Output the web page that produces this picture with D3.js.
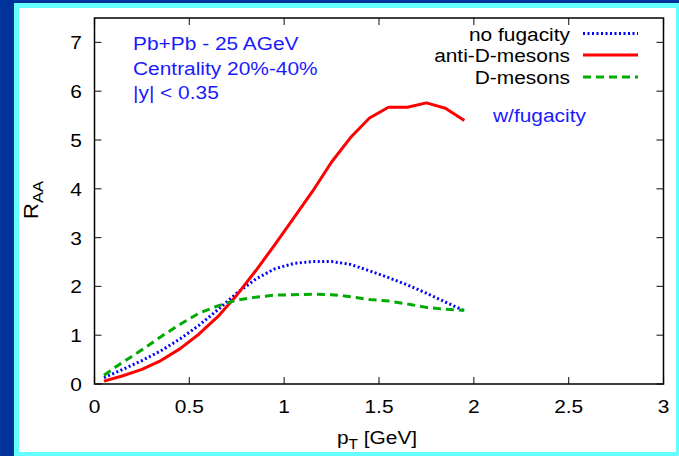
<!DOCTYPE html>
<html><head><meta charset="utf-8">
<script src="https://cdn.jsdelivr.net/npm/d3@7"></script>
<style>html,body{margin:0;padding:0;background:#fff;}svg{display:block;}</style>
</head><body>
<svg id="c" width="679" height="456"></svg>
<script>
const pT = [0.05,0.15,0.25,0.35,0.45,0.55,0.65,0.75,0.85,0.95,1.05,1.15,1.25,1.35,1.45,1.55,1.65,1.75,1.85,1.95];
const noFugacity = [0.13,0.30,0.48,0.68,0.92,1.20,1.52,1.86,2.15,2.36,2.47,2.51,2.51,2.45,2.32,2.18,2.03,1.86,1.68,1.50];
const antiD = [0.06,0.17,0.30,0.48,0.72,1.02,1.38,1.82,2.32,2.85,3.40,3.95,4.55,5.05,5.45,5.67,5.67,5.76,5.65,5.40];
const dMesons = [0.18,0.45,0.70,0.97,1.22,1.45,1.60,1.72,1.78,1.82,1.83,1.84,1.83,1.79,1.73,1.70,1.64,1.57,1.53,1.51];
const xTicks = [0,0.5,1,1.5,2,2.5,3];
const xTickLabels = ["0","0.5","1","1.5","2","2.5","3"];
const yTicks = [0,1,2,3,4,5,6,7];
const legendLabels = ["no fugacity","anti-D-mesons","D-mesons"];
const infoLines = ["Pb+Pb - 25 AGeV","Centrality 20%-40%","|y| < 0.35"];

const svg = d3.select("#c");
const FONT = "Liberation Sans, Arial, Helvetica, sans-serif";
const SX = 1.1;

// background frame
svg.append("rect").attr("x",0).attr("y",0).attr("width",679).attr("height",456).attr("fill","#003399");
svg.append("rect").attr("x",14).attr("y",3).attr("width",665).attr("height",453).attr("fill","#66ffff");
svg.append("rect").attr("x",19).attr("y",8).attr("width",657).attr("height",444).attr("fill","#ffffff");

const L=94.5, R=663.5, T=18, B=384;
const x = d3.scaleLinear().domain([0,3]).range([L,R]);
const y = d3.scaleLinear().domain([0,7.5]).range([B,T]);

function txt(xp, yp, s, anchor, size, color){
  return svg.append("text").attr("transform",`translate(${xp},${yp}) scale(${SX},1)`)
    .attr("text-anchor",anchor).attr("font-family",FONT).attr("font-size",size)
    .attr("fill",color).text(s);
}

const g = svg.append("g");
// ticks (gnuplot style, inward on all sides)
const tl = 7;
const tc = "#333";
g.selectAll(".xtb").data(xTicks).enter().append("line")
  .attr("x1",d=>x(d)).attr("x2",d=>x(d)).attr("y1",B).attr("y2",B-tl).attr("stroke",tc).attr("stroke-width",1.2);
g.selectAll(".xtt").data(xTicks).enter().append("line")
  .attr("x1",d=>x(d)).attr("x2",d=>x(d)).attr("y1",T).attr("y2",T+tl).attr("stroke",tc).attr("stroke-width",1.2);
g.selectAll(".ytl").data(yTicks).enter().append("line")
  .attr("x1",L).attr("x2",L+tl).attr("y1",d=>y(d)).attr("y2",d=>y(d)).attr("stroke",tc).attr("stroke-width",1.2);
g.selectAll(".ytr").data(yTicks).enter().append("line")
  .attr("x1",R).attr("x2",R-tl).attr("y1",d=>y(d)).attr("y2",d=>y(d)).attr("stroke",tc).attr("stroke-width",1.2);

// tick labels
xTicks.forEach((d,i)=>txt(x(d), 413, xTickLabels[i], "middle", 19, "#000"));
yTicks.forEach(d=>txt(82, y(d)+7, String(d), "end", 19, "#000"));

// curves
const line = d3.line().x((d,i)=>x(pT[i])).y(d=>y(d));
const styles = [
  {data:noFugacity, color:"#0000ff", dash:"2,2.5", w:3},
  {data:antiD, color:"#ff0000", dash:null, w:3},
  {data:dMesons, color:"#00aa00", dash:"8,5", w:3}
];
styles.forEach(s=>{
  const p = g.append("path").attr("d",line(s.data)).attr("fill","none")
    .attr("stroke",s.color).attr("stroke-width",s.w).attr("stroke-linejoin","round");
  if(s.dash) p.attr("stroke-dasharray",s.dash);
});

// frame
g.append("rect").attr("x",L).attr("y",T).attr("width",R-L).attr("height",B-T)
  .attr("fill","none").attr("stroke","#000").attr("stroke-width",1.5);

// legend
const legY = [33.5,55,77];
legendLabels.forEach((lab,i)=>{
  txt(570, legY[i]+7, lab, "end", 19, "#000");
  const ln = g.append("line").attr("x1",583).attr("x2",638).attr("y1",legY[i]).attr("y2",legY[i])
    .attr("stroke",styles[i].color).attr("stroke-width",3);
  if(styles[i].dash) ln.attr("stroke-dasharray",styles[i].dash);
});

// info text
infoLines.forEach((s,i)=>txt(133, 50+i*24.5, s, "start", 19, "#1a1aff"));
txt(493, 122, "w/fugacity", "start", 19, "#1a1aff");

// axis titles
const xt = svg.append("text").attr("transform",`translate(377,444) scale(${SX},1)`)
  .attr("text-anchor","middle").attr("font-family",FONT).attr("font-size",19).attr("fill","#000");
xt.append("tspan").text("p");
xt.append("tspan").attr("font-size",14).attr("dy",5).text("T");
xt.append("tspan").attr("dy",-5).text(" [GeV]");

const yt = svg.append("text").attr("transform",`translate(38,200) rotate(-90) scale(${SX},1)`)
  .attr("text-anchor","middle").attr("font-family",FONT).attr("font-size",20).attr("fill","#000");
yt.append("tspan").text("R");
yt.append("tspan").attr("font-size",15).attr("dy",5).text("AA");
</script>
</body></html>
